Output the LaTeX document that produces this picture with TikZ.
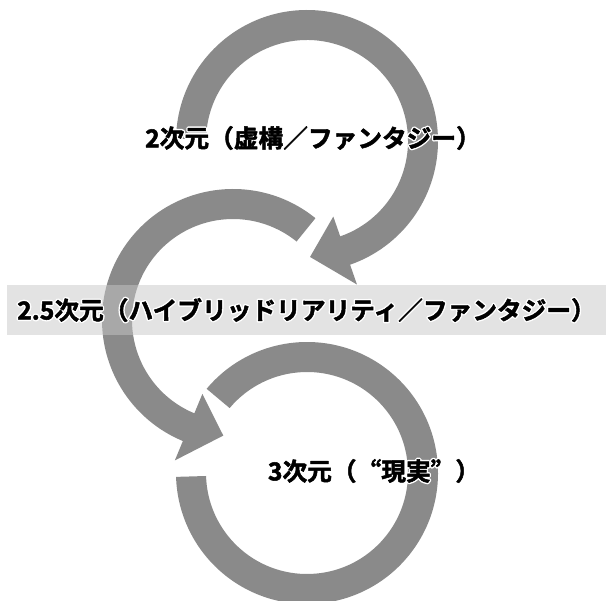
\documentclass[tikz,border=0pt]{standalone}
\usepackage{fontspec}
\newfontfamily\jp{Noto Sans CJK JP}[BoldFont={Noto Sans CJK JP Bold}]
\definecolor{arcc}{RGB}{138,138,138}
\definecolor{barc}{RGB}{199,199,199}
\newcommand{\fw}[1]{{\addfontfeature{CharacterWidth=Full}#1}}
\newcommand{\halo}[1]{\leavevmode\rlap{\special{pdf:literal direct 1 Tr 3.4 w 1 j 1 1 1 RG}#1\special{pdf:literal direct 0 Tr}}%
  \special{pdf:literal direct 2 Tr 0.5 w 0 0 0 RG}#1\special{pdf:literal direct 0 Tr}}
\tikzset{
  arcshape/.style={fill=arcc, draw=none},
  barbox/.style={fill=barc, fill opacity=0.5, draw=none},
  lbl/.style={font=\jp\bfseries\fontsize{24.7}{24.7}\selectfont, text=black, inner sep=0pt}
}
\newcommand{\ringarrow}[4]{% center, start angle, base angle, tip angle
  \fill[arcshape] ([shift={(#1)}]#2:131) arc[start angle=#2, end angle=#3, radius=131]
    -- ([shift={(#1)}]#3:152) -- ([shift={(#1)}]#4:116) -- ([shift={(#1)}]#3:80)
    -- ([shift={(#1)}]#3:101) arc[start angle=#3, end angle=#2, radius=101] -- cycle;}
\begin{document}
\begin{tikzpicture}[x=1pt,y=1pt]
\useasboundingbox (0,0) rectangle (607,600);
\coordinate (ctop) at (307,459);
\coordinate (cmid) at (233,280);
\coordinate (cbot) at (307,127);
% top ring arrow (clockwise)
\ringarrow{ctop}{179}{-70.8}{-88.5}
% middle ring arrow (counterclockwise)
\ringarrow{cmid}{51}{247.5}{265.2}
% bottom ring (no head)
\fill[arcshape] ([shift={(cbot)}]140:131) arc[start angle=140, end angle=-178.3, radius=131]
  -- ([shift={(cbot)}]-178.3:101) arc[start angle=-178.3, end angle=140, radius=101] -- cycle;
% band
\fill[barbox] (7,265) rectangle (606,315);
% labels
\node[lbl] (l2) at (313,462) {\halo{2次元（虚構／ファンタジー）}};
\node[lbl] (l25) at (306.5,290) {\halo{2.5次元（ハイブリッドリアリティ／ファンタジー）}};
\node[lbl] (l3) at (374,129) {\halo{3次元（\fw{“}現実\fw{”}）}};
\end{tikzpicture}
\end{document}
